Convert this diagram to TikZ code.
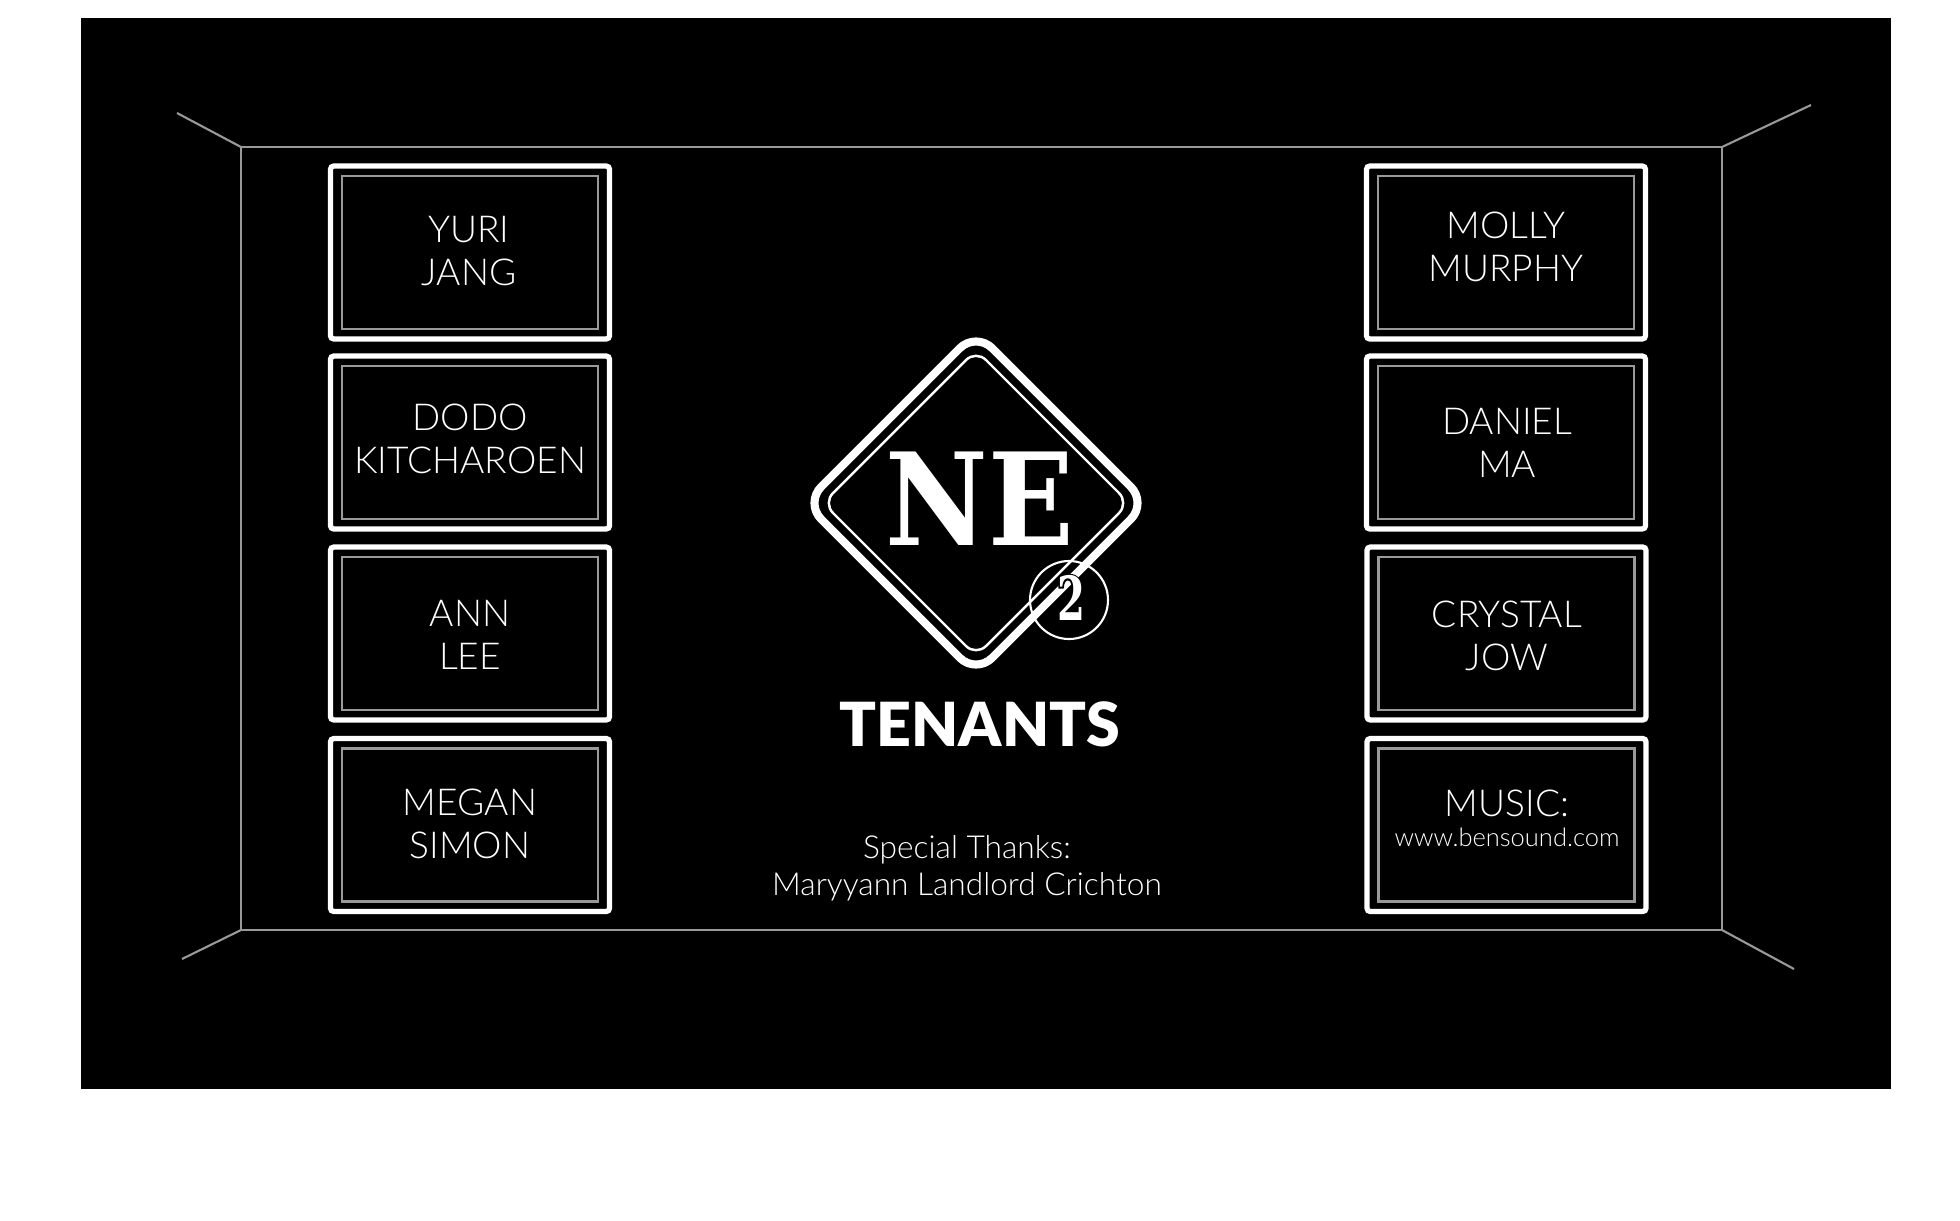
\documentclass[tikz,border=0pt]{standalone}
\usepackage{fontspec}
\setmainfont{Lato Light}
\newfontfamily\tenantfont{Lato Black}
\newfontfamily\logofont[FakeStretch=0.875]{DejaVu Serif Bold}
\newfontfamily\twofont[FakeStretch=0.66]{DejaVu Serif Bold}
\newfontfamily\halofont[FakeStretch=0.66,FakeBold=5]{DejaVu Serif Bold}
\definecolor{wallgray}{gray}{0.6}
\tikzset{
  outerbox/.style={draw=white,line width=1.5pt,rounded corners=1pt,minimum width=2.79cm,minimum height=1.73cm,inner sep=0pt},
  innerbox/.style={draw=wallgray,line width=0.75pt,minimum width=2.56cm,minimum height=1.53cm,inner sep=0pt},
  wall/.style={draw=wallgray,line width=0.6pt},
  person/.style={text=white,align=center,font=\fontsize{10.55}{12.4}\selectfont,inner sep=0pt}
}
\begin{document}
\begin{tikzpicture}[x=0.01cm,y=0.01cm]
\useasboundingbox (0,0) rectangle (1960,-1220);
\fill [black] (81,-18) rectangle (1891,-1089);
% wall
\coordinate (tl) at (241,-147);
\coordinate (tr) at (1722,-147);
\coordinate (br) at (1722,-930);
\coordinate (bl) at (241,-930);
\draw [wall] (tl) -- (tr) -- (br) -- (bl) -- cycle;
\draw [wall] (tl) -- (177,-113);
\draw [wall] (tr) -- (1811,-105);
\draw [wall] (br) -- (1794,-969);
\draw [wall] (bl) -- (182,-959);
% left boxes
\node [outerbox] (b1) at (470,-252.5) {};
\node [innerbox] (i1) at (470,-252.5) {};
\node [person] (n1) at (469,-251) {YURI\\JANG};
\node [outerbox] (b2) at (470,-442.5) {};
\node [innerbox] (i2) at (470,-442.5) {};
\node [person] (n2) at (470,-439) {DODO\\KITCHAROEN};
\node [outerbox] (b3) at (470,-633.5) {};
\node [innerbox] (i3) at (470,-633.5) {};
\node [person] (n3) at (470,-635) {ANN\\LEE};
\node [outerbox] (b4) at (470,-825) {};
\node [innerbox] (i4) at (470,-825) {};
\node [person] (n4) at (470,-824) {MEGAN\\SIMON};
% right boxes
\node [outerbox] (b5) at (1506,-252.5) {};
\node [innerbox] (i5) at (1506,-252.5) {};
\node [person] (n5) at (1506,-247) {MOLLY\\MURPHY};
\node [outerbox] (b6) at (1506,-442.5) {};
\node [innerbox] (i6) at (1506,-442.5) {};
\node [person] (n6) at (1507,-443) {DANIEL\\MA};
\node [outerbox] (b7) at (1506.5,-633.5) {};
\node [innerbox] (i7) at (1506.5,-633.5) {};
\node [person] (n7) at (1507,-636) {CRYSTAL\\JOW};
\node [outerbox] (b8) at (1506.5,-825) {};
\node [innerbox] (i8) at (1506.5,-825) {};
\node [person] (n8) at (1507,-803) {MUSIC:};
\node [person,font=\fontsize{7.25}{8}\selectfont] (n9) at (1507,-837) {www.bensound.com};
% logo
\draw [white,line width=2.3pt,rounded corners=6.5pt] (976,-332) -- (1147,-503) -- (976,-674) -- (805,-503) -- cycle;
\draw [white,line width=0.7pt,rounded corners=4pt] (976,-350) -- (1129,-503) -- (976,-656) -- (823,-503) -- cycle;
\draw [white,line width=0.6pt] (1069,-600) circle (39);
\node [text=white,inner sep=0pt,font=\logofont\fontsize{36.5}{36.5}\selectfont] (ne) at (980,-499) {NE};
\node [text=black,inner sep=0pt,font=\halofont\fontsize{17.3}{17.3}\selectfont] (twohalo) at (1071,-598) {2};
\node [text=white,inner sep=0pt,font=\twofont\fontsize{17.3}{17.3}\selectfont] (two) at (1071,-598) {2};
\node [text=white,inner sep=0pt,font=\tenantfont\fontsize{17.3}{17.3}\selectfont] (tenants) at (980,-724) {TENANTS};
% thanks
\node [person,font=\fontsize{9}{10.4}\selectfont] (thanks) at (967,-868) {Special Thanks:\\Maryyann Landlord Crichton};
\end{tikzpicture}
\end{document}
